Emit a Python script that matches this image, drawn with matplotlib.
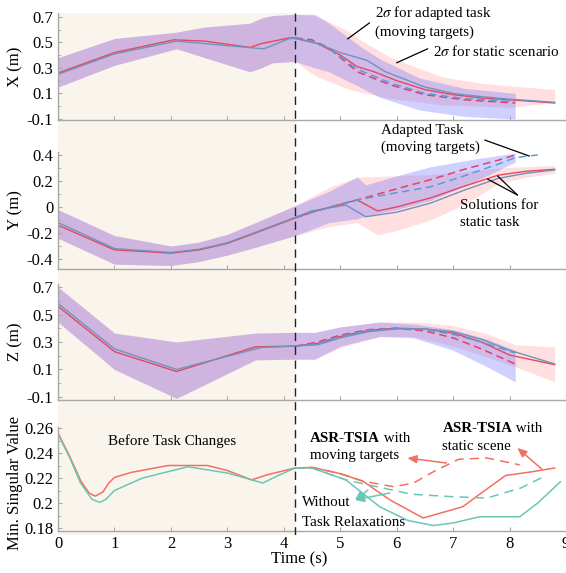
import numpy as np
import matplotlib.pyplot as plt
from matplotlib.ticker import MultipleLocator

plt.rcParams['font.family'] = ['Liberation Serif', 'DejaVu Serif']
plt.rcParams['mathtext.fontset'] = 'stix'
plt.rcParams['font.size'] = 11

t_change = 4.2

# ---------------- X (m) ----------------
x_red_t = [0, 1.0, 2.05, 2.6, 3.4, 3.6, 4.1, 4.2, 4.6, 5.0, 5.3, 5.6, 6.0, 6.5, 7.0, 7.5, 8.0, 8.5, 8.8]
x_red = [0.26, 0.42, 0.52, 0.51, 0.46, 0.49, 0.535, 0.535, 0.49, 0.40, 0.31, 0.27, 0.20, 0.13, 0.09, 0.065, 0.05, 0.035, 0.025]
x_blue_t = [0, 1.0, 2.1, 3.5, 3.65, 4.1, 4.2, 4.6, 5.0, 5.47, 5.8, 6.5, 7.0, 7.5, 8.0, 8.5, 8.8]
x_blue = [0.25, 0.41, 0.51, 0.455, 0.45, 0.53, 0.53, 0.49, 0.42, 0.36, 0.27, 0.15, 0.10, 0.075, 0.055, 0.04, 0.03]
x_red_ad_t = [4.2, 4.5, 4.8, 5.3, 5.9, 6.5, 7.2, 8.1]
x_red_ad = [0.535, 0.52, 0.455, 0.27, 0.165, 0.09, 0.05, 0.025]
x_blue_ad_t = [4.2, 4.5, 4.8, 5.3, 5.9, 6.5, 7.2, 8.1]
x_blue_ad = [0.53, 0.51, 0.45, 0.29, 0.18, 0.10, 0.06, 0.035]
# 2 sigma bands
x_band_t = [0, 1.0, 2.1, 2.6, 3.4, 3.6, 3.8, 4.2]
x_band_hi = [0.38, 0.53, 0.58, 0.62, 0.65, 0.69, 0.71, 0.72]
x_band_lo = [0.15, 0.32, 0.45, 0.38, 0.27, 0.30, 0.34, 0.35]
x_st_t = [4.2, 4.55, 5.1, 5.35, 5.9, 6.8, 7.5, 8.0, 8.8]
x_st_hi = [0.72, 0.71, 0.60, 0.52, 0.38, 0.23, 0.18, 0.16, 0.13]
x_st_lo = [0.35, 0.24, 0.14, 0.11, 0.06, 0.01, 0.0, -0.01, 0.03]
x_ad_t = [4.2, 4.55, 4.8, 5.35, 5.7, 6.41, 7.2, 8.1]
x_ad_hi = [0.72, 0.72, 0.65, 0.47, 0.37, 0.22, 0.14, 0.10]
x_ad_lo = [0.35, 0.30, 0.27, 0.15, 0.07, -0.03, -0.08, -0.10]

# ---------------- Y (m) ----------------
y_red_t = [0, 1.0, 2.0, 2.5, 3.0, 3.5, 4.2, 4.5, 5.0, 5.3, 5.66, 6.0, 6.6, 7.2, 7.8, 8.3, 8.8]
y_red = [-0.14, -0.33, -0.355, -0.33, -0.28, -0.20, -0.085, -0.04, 0.02, 0.054, -0.03, 0.0, 0.07, 0.16, 0.245, 0.275, 0.29]
y_blue_t = [0, 1.0, 2.0, 2.5, 3.0, 3.5, 4.2, 4.5, 5.1, 5.45, 6.0, 6.6, 7.2, 7.8, 8.3, 8.8]
y_blue = [-0.12, -0.32, -0.35, -0.325, -0.275, -0.195, -0.08, -0.03, 0.015, -0.075, -0.04, 0.03, 0.13, 0.22, 0.26, 0.285]
y_red_ad_t = [4.2, 4.5, 5.0, 5.3, 6.0, 6.6, 7.2, 7.8, 8.1]
y_red_ad = [-0.085, -0.04, 0.02, 0.054, 0.14, 0.21, 0.29, 0.36, 0.40]
y_blue_ad_t = [4.2, 4.5, 5.0, 5.3, 6.0, 6.6, 7.2, 7.8, 8.1, 8.5]
y_blue_ad = [-0.08, -0.04, 0.02, 0.054, 0.11, 0.155, 0.24, 0.33, 0.38, 0.40]
y_band_t = [0, 1.0, 2.0, 2.5, 3.0, 3.5, 4.2]
y_band_hi = [-0.02, -0.22, -0.30, -0.27, -0.21, -0.12, 0.01]
y_band_lo = [-0.24, -0.44, -0.45, -0.42, -0.37, -0.31, -0.22]
y_st_t = [4.2, 4.8, 5.3, 5.66, 6.0, 6.6, 7.2, 7.8, 8.3, 8.8]
y_st_hi = [0.01, 0.15, 0.23, 0.235, 0.24, 0.25, 0.27, 0.30, 0.31, 0.32]
y_st_lo = [-0.22, -0.15, -0.12, -0.215, -0.18, -0.10, 0.02, 0.18, 0.23, 0.26]
y_ad_t = [4.2, 4.8, 5.3, 5.45, 6.0, 6.6, 7.4, 8.1]
y_ad_hi = [0.01, 0.12, 0.23, 0.17, 0.24, 0.31, 0.37, 0.415]
y_ad_lo = [-0.22, -0.12, -0.09, -0.07, -0.02, 0.05, 0.20, 0.345]

# ---------------- Z (m) ----------------
z_red_t = [0, 1.0, 2.1, 3.5, 4.2, 4.6, 5.0, 5.5, 6.0, 6.5, 7.0, 7.5, 8.0, 8.4, 8.8]
z_red = [0.56, 0.23, 0.085, 0.265, 0.27, 0.29, 0.34, 0.385, 0.40, 0.395, 0.365, 0.30, 0.205, 0.17, 0.135]
z_blue_t = [0, 1.0, 2.1, 3.6, 4.2, 4.6, 5.0, 5.5, 6.0, 6.5, 7.0, 7.5, 8.0, 8.4, 8.8]
z_blue = [0.58, 0.25, 0.10, 0.26, 0.27, 0.28, 0.33, 0.375, 0.395, 0.395, 0.375, 0.32, 0.24, 0.19, 0.14]
z_red_ad_t = [4.2, 4.6, 5.0, 5.5, 6.0, 6.5, 7.0, 7.5, 8.1]
z_red_ad = [0.27, 0.30, 0.35, 0.39, 0.40, 0.38, 0.33, 0.25, 0.14]
z_blue_ad_t = [4.2, 4.6, 5.0, 5.5, 6.0, 6.5, 7.0, 7.5, 8.1]
z_blue_ad = [0.27, 0.29, 0.34, 0.385, 0.40, 0.39, 0.355, 0.30, 0.22]
z_band_t = [0, 1.0, 2.1, 3.5, 4.2]
z_band_hi = [0.70, 0.365, 0.30, 0.365, 0.37]
z_band_lo = [0.445, 0.10, -0.11, 0.17, 0.175]
z_st_t = [4.2, 4.55, 5.0, 5.7, 6.3, 7.0, 7.6, 8.1, 8.8]
z_st_hi = [0.37, 0.37, 0.41, 0.445, 0.445, 0.42, 0.36, 0.28, 0.265]
z_st_lo = [0.175, 0.175, 0.26, 0.34, 0.34, 0.27, 0.19, 0.12, 0.01]
z_ad_t = [4.2, 4.55, 5.0, 5.7, 6.3, 7.0, 7.6, 8.1]
z_ad_hi = [0.37, 0.37, 0.41, 0.445, 0.43, 0.39, 0.32, 0.24]
z_ad_lo = [0.175, 0.175, 0.27, 0.34, 0.33, 0.24, 0.12, 0.01]

# ---------------- Min. singular value ----------------
s_tsia_t = [0, 0.2, 0.4, 0.55, 0.66, 0.8, 0.9, 1.0, 1.3, 1.95, 2.65, 3.0, 3.43, 3.7, 4.2, 4.5, 5.0, 5.4, 5.88, 6.47, 7.17, 7.5, 7.93, 8.4, 8.8]
s_tsia = [0.256, 0.238, 0.218, 0.208, 0.2055, 0.209, 0.216, 0.2205, 0.2245, 0.230, 0.230, 0.226, 0.2185, 0.2225, 0.228, 0.2285, 0.2235, 0.2175, 0.2025, 0.188, 0.197, 0.208, 0.222, 0.225, 0.228]
s_norel_t = [0, 0.2, 0.4, 0.6, 0.74, 0.85, 1.0, 1.5, 2.3, 3.0, 3.63, 3.9, 4.2, 4.5, 5.1, 5.7, 6.2, 6.65, 7.0, 7.47, 8.18, 8.5, 8.9]
s_norel = [0.255, 0.237, 0.216, 0.203, 0.2005, 0.203, 0.210, 0.220, 0.229, 0.224, 0.216, 0.222, 0.228, 0.228, 0.2185, 0.197, 0.186, 0.182, 0.184, 0.189, 0.189, 0.200, 0.217]
s_tsia_ad_t = [4.2, 4.5, 5.0, 5.4, 5.95, 6.3, 6.65, 7.1, 7.6, 8.18]
s_tsia_ad = [0.228, 0.2285, 0.2235, 0.2175, 0.213, 0.216, 0.225, 0.235, 0.236, 0.2305]
s_norel_ad_t = [4.2, 4.5, 5.1, 5.5, 6.27, 7.0, 7.6, 8.2, 8.6]
s_norel_ad = [0.228, 0.228, 0.2185, 0.2145, 0.207, 0.205, 0.204, 0.212, 0.221]

red = '#E5485E'
blue = '#6E94BC'
red_d = '#E2406A'
blue_d = '#5C9BD5'
salmon = '#F2705E'
teal = '#6CC6B6'
pink_band = (1.0, 0.5, 0.5, 0.25)
blue_band = (0.4, 0.4, 1.0, 0.3)
spine_c = '#A8A8A8'
fs_note = 10.8

fig = plt.figure(figsize=(5.66, 5.73), dpi=100)
W, H = 566.0, 573.0
left, right = 58 / W, 1.0


def px_axes(top, bottom):
    return fig.add_axes([left, 1 - bottom / H, right - left, (bottom - top) / H])


# background shading across all panels
bg = px_axes(13, 535)
bg.set_xlim(0, 9)
bg.axvspan(0, t_change, color='#FAF5EC', lw=0)
bg.axis('off')
bg.set_zorder(-1)

ax1 = px_axes(13, 120)
ax2 = px_axes(152, 269)
ax3 = px_axes(284, 400)
ax4 = px_axes(427, 531)
axes = [ax1, ax2, ax3, ax4]

for ax in axes:
    ax.patch.set_alpha(0)
    ax.set_xlim(0, 9)
    for s in ['top', 'right']:
        ax.spines[s].set_visible(False)
    for s in ['left', 'bottom']:
        ax.spines[s].set_color(spine_c)
        ax.spines[s].set_linewidth(1.0)
    ax.xaxis.set_major_locator(MultipleLocator(1))
    ax.tick_params(direction='in', color=spine_c, length=3, labelsize=12)
    ax.tick_params(which='minor', direction='in', color=spine_c, length=2)


def draw_pos(ax, bt, bhi, blo, st, shi, slo, at, ahi, alo,
             rt, rv, bt2, bv, rat, rav, bat, bav):
    ax.fill_between(list(bt) + list(st[1:]), list(bhi) + list(shi[1:]),
                    list(blo) + list(slo[1:]), color=pink_band, lw=0)
    ax.fill_between(list(bt) + list(at[1:]), list(bhi) + list(ahi[1:]),
                    list(blo) + list(alo[1:]), color=blue_band, lw=0)
    ax.plot(rt, rv, color=red, lw=1.0)
    ax.plot(bt2, bv, color=blue, lw=1.0)
    ax.plot(rat, rav, color=red_d, lw=1.1, ls=(0, (5, 3)))
    ax.plot(bat, bav, color=blue_d, lw=1.1, ls=(0, (5, 3)))


draw_pos(ax1, x_band_t, x_band_hi, x_band_lo, x_st_t, x_st_hi, x_st_lo,
         x_ad_t, x_ad_hi, x_ad_lo, x_red_t, x_red, x_blue_t, x_blue,
         x_red_ad_t, x_red_ad, x_blue_ad_t, x_blue_ad)
draw_pos(ax2, y_band_t, y_band_hi, y_band_lo, y_st_t, y_st_hi, y_st_lo,
         y_ad_t, y_ad_hi, y_ad_lo, y_red_t, y_red, y_blue_t, y_blue,
         y_red_ad_t, y_red_ad, y_blue_ad_t, y_blue_ad)
draw_pos(ax3, z_band_t, z_band_hi, z_band_lo, z_st_t, z_st_hi, z_st_lo,
         z_ad_t, z_ad_hi, z_ad_lo, z_red_t, z_red, z_blue_t, z_blue,
         z_red_ad_t, z_red_ad, z_blue_ad_t, z_blue_ad)

ax4.plot(s_tsia_t, s_tsia, color=salmon, lw=1.1)
ax4.plot(s_norel_t, s_norel, color=teal, lw=1.1)
ax4.plot(s_tsia_ad_t, s_tsia_ad, color=salmon, lw=1.1, ls=(0, (6, 4)))
ax4.plot(s_norel_ad_t, s_norel_ad, color=teal, lw=1.1, ls=(0, (6, 4)))

ax1.set_ylim(-0.108, 0.73)
ax1.set_yticks([-0.1, 0.1, 0.3, 0.5, 0.7])
ax1.set_yticklabels(['-0.1', '0.1', '0.3', '0.5', '0.7'])
ax1.yaxis.set_minor_locator(MultipleLocator(0.1))
ax2.set_ylim(-0.477, 0.423)
ax2.set_yticks([-0.4, -0.2, 0, 0.2, 0.4])
ax2.set_yticklabels(['-0.4', '-0.2', '0', '0.2', '0.4'])
ax2.yaxis.set_minor_locator(MultipleLocator(0.1))
ax3.set_ylim(-0.122, 0.722)
ax3.set_yticks([-0.1, 0.1, 0.3, 0.5, 0.7])
ax3.set_yticklabels(['-0.1', '0.1', '0.3', '0.5', '0.7'])
ax3.yaxis.set_minor_locator(MultipleLocator(0.1))
ax4.set_ylim(0.1776, 0.2608)
ax4.set_yticks([0.18, 0.2, 0.22, 0.24, 0.26])
ax4.set_yticklabels(['0.18', '0.2', '0.22', '0.24', '0.26'])
ax4.yaxis.set_minor_locator(MultipleLocator(0.01))

for ax in [ax1, ax2, ax3]:
    ax.tick_params(labelbottom=False)
ax4.set_xticks(range(10))

for ax, lab in zip(axes, ['X (m)', 'Y (m)', 'Z (m)', 'Min. Singular Value']):
    ax.set_ylabel(lab, fontsize=12)
    ax.yaxis.set_label_coords(-0.068, 0.5)
ax4.yaxis.set_label_coords(-0.068, 0.46)
ax4.set_xlabel('Time (s)', fontsize=12)
ax4.xaxis.set_label_coords(0.475, -0.2)

# dashed line marking the task change, drawn on top
top = px_axes(13, 535)
top.set_xlim(0, 9)
top.axvline(t_change, color='#222222', lw=1.0, ls=(0, (6, 4)))
top.axis('off')
top.set_zorder(10)

lk = dict(arrowstyle='-', color='black', lw=0.9, shrinkA=0, shrinkB=0)
ax1.annotate('', xy=(5.13, 0.527), xytext=(5.52, 0.653), arrowprops=lk)
ax1.text(5.61, 0.73, '2$\\sigma$ for adapted task', va='center', fontsize=fs_note, clip_on=False)
ax1.text(5.61, 0.58, '(moving targets)', va='center', fontsize=fs_note)
ax1.annotate('', xy=(6.0, 0.34), xytext=(6.55, 0.45), arrowprops=lk)
ax1.text(6.64, 0.425, '2$\\sigma$ for static scenario', va='center', fontsize=fs_note)

ax2.text(5.73, 0.592, 'Adapted Task', va='center', fontsize=fs_note, clip_on=False)
ax2.text(5.73, 0.46, '(moving targets)', va='center', fontsize=fs_note, clip_on=False)
ax2.annotate('', xy=(8.35, 0.392), xytext=(7.56, 0.515), arrowprops=lk,
             annotation_clip=False)
ax2.text(7.13, 0.015, 'Solutions for', va='center', fontsize=fs_note)
ax2.text(7.13, -0.123, 'static task', va='center', fontsize=fs_note)
ax2.annotate('', xy=(7.79, 0.238), xytext=(8.14, 0.092), arrowprops=lk)
ax2.annotate('', xy=(7.61, 0.215), xytext=(8.14, 0.092), arrowprops=lk)

ax4.text(2.02, 0.2496, 'Before Task Changes', ha='center', va='center', fontsize=fs_note)


def bold_with(ax, x, y1, y2, second):
    b = ax.text(x, y1, 'ASR-TSIA', fontweight='bold', va='center', fontsize=fs_note)
    ax.annotate(' with', xy=(1, 0.5), xycoords=b, va='center', fontsize=fs_note)
    ax.text(x, y2, second, va='center', fontsize=fs_note)


bold_with(ax4, 4.46, 0.252, 0.2376, 'moving targets')
bold_with(ax4, 6.81, 0.26, 0.2456, 'static scene')
ax4.text(4.33, 0.2, 'Without', va='center', fontsize=fs_note)
ax4.text(4.33, 0.1848, 'Task Relaxations', va='center', fontsize=fs_note)

ar = dict(arrowstyle='-|>,head_length=0.5,head_width=0.22', color=salmon, lw=1.1,
          shrinkA=0, shrinkB=0)
at = dict(arrowstyle='-|>,head_length=0.5,head_width=0.22', color=teal, lw=1.1,
          shrinkA=0, shrinkB=0)
ax4.annotate('', xy=(6.19, 0.236), xytext=(6.88, 0.232), arrowprops=ar)
ax4.annotate('', xy=(8.14, 0.244), xytext=(8.57, 0.2272), arrowprops=ar)
ax4.annotate('', xy=(5.26, 0.2024), xytext=(5.88, 0.208), arrowprops=at)
ax4.annotate('', xy=(5.26, 0.2024), xytext=(5.49, 0.2104), arrowprops=at)

fig.savefig('out.png', dpi=100)
